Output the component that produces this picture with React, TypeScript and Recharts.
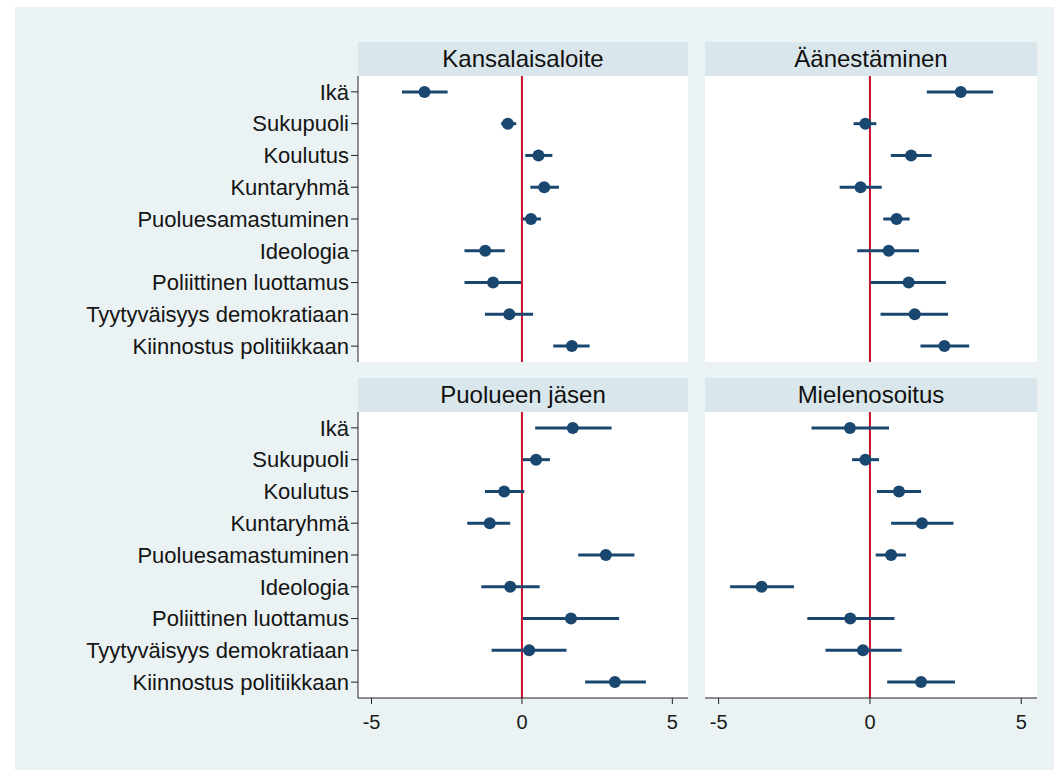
import React from 'react';
import { ScatterChart, Scatter, XAxis, YAxis, CartesianGrid, ReferenceLine, ErrorBar } from 'recharts';

const variables = [
  'Ikä',
  'Sukupuoli',
  'Koulutus',
  'Kuntaryhmä',
  'Puoluesamastuminen',
  'Ideologia',
  'Poliittinen luottamus',
  'Tyytyväisyys demokratiaan',
  'Kiinnostus politiikkaan',
];

const xTicks = [-5, 0, 5];

const kansalaisCoef = [-3.24, -0.47, 0.55, 0.74, 0.3, -1.22, -0.96, -0.42, 1.66];
const kansalaisLo = [-3.99, -0.69, 0.11, 0.28, 0.03, -1.91, -1.91, -1.23, 1.04];
const kansalaisHi = [-2.47, -0.19, 1.01, 1.23, 0.63, -0.57, -0.03, 0.37, 2.25];

const aanestCoef = [3.0, -0.15, 1.36, -0.31, 0.88, 0.62, 1.28, 1.48, 2.46];
const aanestLo = [1.88, -0.54, 0.69, -1.0, 0.44, -0.42, 0.02, 0.35, 1.67];
const aanestHi = [4.07, 0.21, 2.04, 0.39, 1.31, 1.62, 2.51, 2.58, 3.28];

const jasenCoef = [1.69, 0.47, -0.59, -1.07, 2.79, -0.39, 1.63, 0.24, 3.09];
const jasenLo = [0.44, 0.03, -1.23, -1.82, 1.87, -1.35, 0.03, -1.01, 2.1];
const jasenHi = [2.98, 0.93, 0.08, -0.39, 3.74, 0.59, 3.23, 1.48, 4.12];

const mielCoef = [-0.66, -0.15, 0.96, 1.72, 0.7, -3.58, -0.65, -0.23, 1.69];
const mielLo = [-1.93, -0.59, 0.23, 0.7, 0.19, -4.62, -2.07, -1.47, 0.57];
const mielHi = [0.63, 0.3, 1.69, 2.76, 1.19, -2.51, 0.81, 1.05, 2.81];

const NAVY = '#1a476f';
const RED = '#c8102e';
const BG = '#eaf2f3';
const STRIP = '#d9e6eb';
const GRID = '#e4ecef';
const FONT = '"Liberation Sans", Arial, Helvetica, sans-serif';

const X_DOMAIN: [number, number] = [-5.45, 5.52];
const PLOT_H = 286;
const HEADER_H = 34;

type PanelProps = {
  title: string;
  coef: number[];
  lo: number[];
  hi: number[];
  plotLeft: number;
  plotWidth: number;
  plotTop: number;
  showY: boolean;
  showX: boolean;
};

function Panel({ title, coef, lo, hi, plotLeft, plotWidth, plotTop, showY, showX }: PanelProps) {
  const data = coef.map((c, i) => ({
    x: c,
    row: i,
    err: [c - lo[i], hi[i] - c],
  }));
  const yWidth = showY ? plotLeft : 0;
  const chartLeft = showY ? 0 : plotLeft;
  const chartWidth = plotWidth + yWidth;
  const chartHeight = PLOT_H + (showX ? 60 : 0);
  return (
    <>
      <div
        style={{
          position: 'absolute',
          left: plotLeft,
          top: plotTop - HEADER_H,
          width: plotWidth,
          height: HEADER_H,
          background: STRIP,
          fontFamily: FONT,
          fontSize: 24,
          color: '#111',
          textAlign: 'center',
          lineHeight: `${HEADER_H}px`,
        }}
      >
        {title}
      </div>
      <div style={{ position: 'absolute', left: chartLeft, top: plotTop }}>
        <ScatterChart
          width={chartWidth}
          height={chartHeight}
          margin={{ top: 0, right: 0, bottom: 0, left: 0 }}
        >
          <rect x={yWidth} y={0} width={plotWidth} height={PLOT_H} fill="#ffffff" />
          <CartesianGrid
            horizontal={true}
            vertical={false}
            stroke={GRID}
            strokeWidth={2}
            fill="#ffffff"
          />
          <XAxis
            type="number"
            dataKey="x"
            domain={X_DOMAIN}
            ticks={xTicks}
            allowDataOverflow
            hide={!showX}
            height={60}
            tickSize={6}
            tickMargin={11}
            axisLine={{ stroke: '#222', strokeWidth: 1 }}
            tickLine={{ stroke: '#222', strokeWidth: 1 }}
            tick={{ fill: '#1a1a1a', fontSize: 20, fontFamily: FONT }}
          />
          <YAxis
            type="number"
            dataKey="row"
            domain={[-0.5, 8.5]}
            ticks={[0, 1, 2, 3, 4, 5, 6, 7, 8]}
            reversed
            allowDataOverflow
            hide={!showY}
            width={yWidth}
            interval={0}
            tickSize={7}
            tickMargin={2}
            tickFormatter={(v: number) => variables[v]}
            axisLine={{ stroke: '#222', strokeWidth: 1 }}
            tickLine={{ stroke: '#222', strokeWidth: 1 }}
            tick={{ fill: '#151515', fontSize: 22, fontFamily: FONT }}
          />
          <ReferenceLine x={0} stroke={RED} strokeWidth={2} />
          <Scatter
            data={data}
            isAnimationActive={false}
            fill={NAVY}
            shape={(p: any) => <circle cx={p.cx} cy={p.cy} r={6} fill={NAVY} />}
          >
            <ErrorBar
              dataKey="err"
              direction="x"
              width={0}
              strokeWidth={3}
              stroke={NAVY}
              isAnimationActive={false}
            />
          </Scatter>
        </ScatterChart>
      </div>
    </>
  );
}

export default function App() {
  return (
    <div
      style={{
        position: 'absolute',
        left: 0,
        top: 0,
        width: 1054,
        height: 771,
        background: '#ffffff',
        overflow: 'hidden',
      }}
    >
      <div
        style={{
          position: 'absolute',
          left: 15,
          top: 7,
          width: 1039,
          height: 763,
          background: BG,
        }}
      />
      <Panel
        title="Kansalaisaloite"
        coef={kansalaisCoef}
        lo={kansalaisLo}
        hi={kansalaisHi}
        plotLeft={358}
        plotWidth={330}
        plotTop={76}
        showY={true}
        showX={false}
      />
      <Panel
        title="Äänestäminen"
        coef={aanestCoef}
        lo={aanestLo}
        hi={aanestHi}
        plotLeft={705}
        plotWidth={332}
        plotTop={76}
        showY={false}
        showX={false}
      />
      <Panel
        title="Puolueen jäsen"
        coef={jasenCoef}
        lo={jasenLo}
        hi={jasenHi}
        plotLeft={358}
        plotWidth={330}
        plotTop={412}
        showY={true}
        showX={true}
      />
      <Panel
        title="Mielenosoitus"
        coef={mielCoef}
        lo={mielLo}
        hi={mielHi}
        plotLeft={705}
        plotWidth={332}
        plotTop={412}
        showY={false}
        showX={true}
      />
    </div>
  );
}
